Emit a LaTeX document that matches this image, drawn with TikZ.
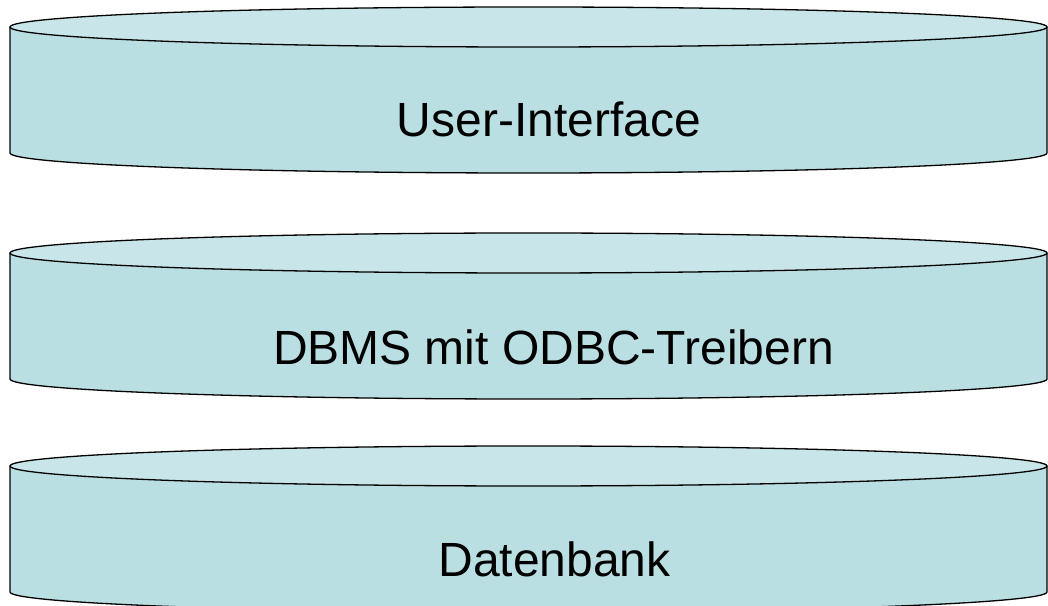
\documentclass[tikz,border=0pt]{standalone}
\usepackage{fontspec}
\setmainfont{Liberation Sans}
\definecolor{sidecol}{HTML}{BADFE3}
\definecolor{topcol}{HTML}{C8E6E9}
\tikzset{
  disklabel/.style={anchor=base, inner sep=0pt, font=\fontsize{48}{57}\selectfont, text=black},
  diskline/.style={draw=black, line width=1.3pt, line join=round},
}
\newcommand{\disk}[1]{% #1 = y of top ellipse centre (tikz, y up)
  \filldraw[diskline, fill=sidecol]
    (10,#1) -- (10,#1-126)
    arc[start angle=180, end angle=360, x radius=518.5pt, y radius=20pt]
    -- (1047,#1) -- cycle;
  \filldraw[diskline, fill=topcol] (528.5,#1) ellipse[x radius=518.5pt, y radius=20pt];
}
\begin{document}
\begin{tikzpicture}[x=1pt,y=1pt]
  \useasboundingbox (0,0) rectangle (1048,605);
  \clip (0,0) rectangle (1048,605);
  \disk{578}
  \disk{352}
  \disk{139}
  \node[disklabel] (ui) at (549,468) {User-Interface};
  \node[disklabel] (dbms) at (553.5,240) {DBMS mit ODBC-Treibern};
  \node[disklabel] (db) at (554.5,29) {Datenbank};
\end{tikzpicture}
\end{document}
